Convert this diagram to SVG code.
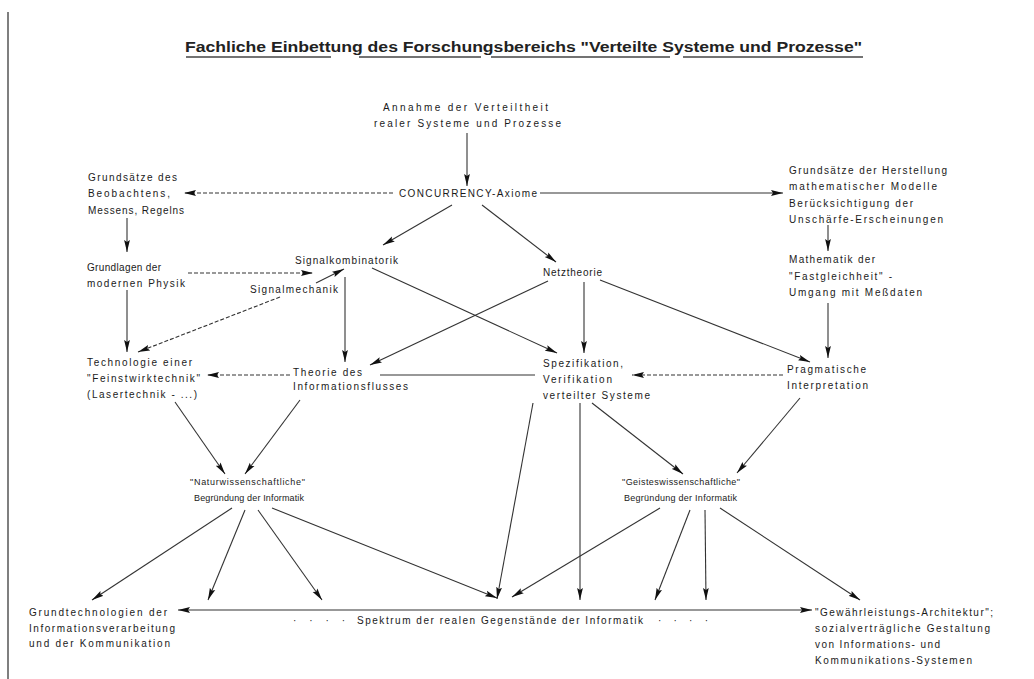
<svg xmlns="http://www.w3.org/2000/svg" width="1034" height="679" viewBox="0 0 1034 679">
<defs>
<marker id="ah" markerUnits="userSpaceOnUse" markerWidth="13" markerHeight="7" refX="12" refY="3.5" orient="auto-start-reverse">
<path d="M0,0.6 L12,3.5 L0,6.4 L2,3.5 z" fill="#111"/>
</marker>
<style>
text{font-family:"Liberation Sans",Arial,sans-serif;font-size:10px;fill:#1a1a1a}
.t{font-size:14px;font-weight:bold;fill:#222}
.s{font-size:9px}
.c line,.c path{stroke:#333;stroke-width:1.1;fill:none}
.a{marker-end:url(#ah)}
.d{stroke-dasharray:4 2}
.ul{stroke:#444;stroke-width:1.6}
.b{stroke:#555;stroke-width:1.5}
</style>
</defs>
<rect width="1034" height="679" fill="#fff"/>
<line class="b" x1="8" y1="12" x2="8" y2="679"/>
<g id="title">
<text class="t" x="185" y="52" textLength="677" lengthAdjust="spacingAndGlyphs">Fachliche Einbettung des Forschungsbereichs "Verteilte Systeme und Prozesse"</text>
<line class="ul" x1="186" y1="57" x2="331" y2="57"/>
<line class="ul" x1="359" y1="57" x2="481" y2="57"/>
<line class="ul" x1="491" y1="57" x2="670" y2="57"/>
<line class="ul" x1="683" y1="57" x2="863" y2="57"/>
</g>
<g id="connectors" class="c">
<line class="a" x1="467" y1="133" x2="467" y2="186"/>
<line class="a d" x1="393" y1="193" x2="184" y2="193"/>
<line class="a" x1="540" y1="193" x2="783" y2="193"/>
<line class="a" x1="452" y1="205" x2="383" y2="245"/>
<line class="a" x1="482" y1="205" x2="556" y2="262"/>
<line class="a" x1="127" y1="218" x2="127" y2="252"/>
<line class="a" x1="828" y1="225" x2="828" y2="251"/>
<line class="a d" x1="188" y1="273" x2="313" y2="273"/>
<line class="a" x1="316" y1="283" x2="344" y2="269"/>
<line class="a d" x1="280" y1="297" x2="138" y2="352"/>
<line class="a" x1="127" y1="290" x2="127" y2="352"/>
<line class="a" x1="345" y1="277" x2="345" y2="362"/>
<line class="a" x1="372" y1="268" x2="557" y2="353"/>
<line class="a" x1="548" y1="281" x2="370" y2="365"/>
<line class="a" x1="584" y1="282" x2="584" y2="353"/>
<line class="a" x1="600" y1="280" x2="810" y2="362"/>
<line class="a" x1="828" y1="303" x2="828" y2="358"/>
<line class="a d" x1="290" y1="375" x2="207" y2="375"/>
<line x1="380" y1="375" x2="535" y2="375" stroke="#666"/>
<line class="a d" x1="783" y1="375" x2="632" y2="375"/>
<line class="a" x1="175" y1="402" x2="225" y2="474"/>
<line class="a" x1="300" y1="400" x2="245" y2="474"/>
<line class="a" x1="533" y1="403" x2="497" y2="599"/>
<line class="a" x1="580" y1="403" x2="580" y2="600"/>
<line class="a" x1="592" y1="403" x2="683" y2="474"/>
<line class="a" x1="800" y1="398" x2="737" y2="473"/>
<line class="a" x1="232" y1="508" x2="92" y2="600"/>
<line class="a" x1="245" y1="510" x2="208" y2="600"/>
<line class="a" x1="258" y1="510" x2="322" y2="600"/>
<line class="a" x1="272" y1="508" x2="497" y2="598"/>
<line class="a" x1="660" y1="508" x2="512" y2="597"/>
<line class="a" x1="690" y1="510" x2="655" y2="600"/>
<line class="a" x1="705" y1="510" x2="706" y2="600"/>
<line class="a" x1="720" y1="508" x2="860" y2="600"/>
<line x1="178" y1="610" x2="812" y2="610" marker-start="url(#ah)" marker-end="url(#ah)"/>
</g>
<g id="n-annahme">
<text x="383" y="111" textLength="165">Annahme der Verteiltheit</text>
<text x="374" y="127" textLength="187">realer  Systeme und Prozesse</text>
</g>
<g id="n-concurrency"><text x="399" y="197" textLength="138">CONCURRENCY-Axiome</text></g>
<g id="n-beobachten">
<text x="88" y="181" textLength="89">Grundsätze des</text>
<text x="88" y="197" textLength="82">Beobachtens,</text>
<text x="88" y="214" textLength="96">Messens, Regelns</text>
</g>
<g id="n-herstellung">
<text x="789" y="174" textLength="158">Grundsätze der Herstellung</text>
<text x="789" y="190" textLength="148">mathematischer Modelle</text>
<text x="789" y="207" textLength="124">Berücksichtigung der</text>
<text x="789" y="223" textLength="154">Unschärfe-Erscheinungen</text>
</g>
<g id="n-physik">
<text x="87" y="271" textLength="74">Grundlagen der</text>
<text x="87" y="287" textLength="98">modernen Physik</text>
</g>
<g id="n-signalkomb"><text x="295" y="264" textLength="103">Signalkombinatorik</text></g>
<g id="n-signalmech"><text x="250" y="293" textLength="88">Signalmechanik</text></g>
<g id="n-netz"><text x="543" y="276" textLength="59">Netztheorie</text></g>
<g id="n-mathematik">
<text x="789" y="263" textLength="86">Mathematik der</text>
<text x="789" y="280" textLength="103">"Fastgleichheit" -</text>
<text x="789" y="296" textLength="133">Umgang mit Meßdaten</text>
</g>
<g id="n-technologie">
<text x="87" y="366" textLength="105">Technologie einer</text>
<text x="87" y="382" textLength="113">"Feinstwirktechnik"</text>
<text x="87" y="398" textLength="110">(Lasertechnik - ...)</text>
</g>
<g id="n-theorie">
<text x="293" y="376" textLength="69">Theorie des</text>
<text x="293" y="390" textLength="115">Informationsflusses</text>
</g>
<g id="n-spez">
<text x="543" y="367" textLength="80">Spezifikation,</text>
<text x="543" y="383" textLength="69">Verifikation</text>
<text x="543" y="399" textLength="107">verteilter Systeme</text>
</g>
<g id="n-pragmatisch">
<text x="787" y="373" textLength="79">Pragmatische</text>
<text x="787" y="389" textLength="81">Interpretation</text>
</g>
<g id="n-natur">
<text class="s" x="190" y="485" textLength="115">"Naturwissenschaftliche"</text>
<text class="s" x="194" y="501" textLength="110">Begründung der Informatik</text>
</g>
<g id="n-geist">
<text class="s" x="622" y="485" textLength="118">"Geisteswissenschaftliche"</text>
<text class="s" x="624" y="501" textLength="113">Begründung der Informatik</text>
</g>
<g id="n-grundtech">
<text x="29" y="616" textLength="138">Grundtechnologien der</text>
<text x="29" y="632" textLength="146">Informationsverarbeitung</text>
<text x="29" y="647" textLength="141">und der Kommunikation</text>
</g>
<g id="n-spektrum">
<text x="293" y="624" textLength="52">·  ·  ·  ·</text>
<text x="357" y="624" textLength="286">Spektrum der realen Gegenstände der Informatik</text>
<text x="658" y="624" textLength="50">·  ·  ·  ·</text>
</g>
<g id="n-gewaehr">
<text x="815" y="616" textLength="178">"Gewährleistungs-Architektur";</text>
<text x="815" y="632" textLength="175">sozialverträgliche Gestaltung</text>
<text x="815" y="648" textLength="125">von Informations- und</text>
<text x="815" y="664" textLength="157">Kommunikations-Systemen</text>
</g>
</svg>
